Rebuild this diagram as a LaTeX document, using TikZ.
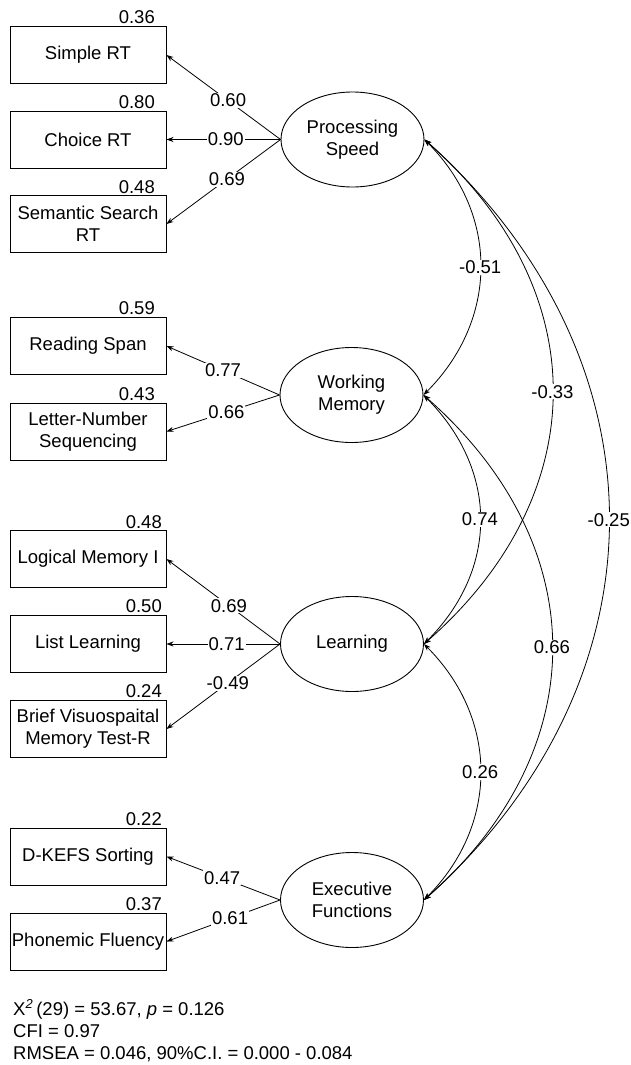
\documentclass[tikz,border=0pt]{standalone}
\usepackage{fontspec}
\setmainfont{Liberation Sans}
\usetikzlibrary{arrows.meta,shapes.geometric}
\tikzset{
  every node/.style={font=\fontsize{18.5}{22}\selectfont, text=black},
  obsbox/.style={draw, line width=0.9pt, minimum width=156pt, minimum height=57pt, inner sep=0pt, align=center},
  latent/.style={draw, ellipse, line width=0.9pt, minimum width=143pt, minimum height=95pt, inner sep=0pt, align=center},
  load/.style={line width=0.8pt, -{Stealth[length=7pt,width=5pt]}},
  cov/.style={line width=0.8pt, {Stealth[length=7pt,width=5pt]}-{Stealth[length=7pt,width=5pt]}},
  lab/.style={fill=white, inner sep=1pt},
  resid/.style={anchor=base east, inner sep=0pt},
  fitline/.style={anchor=base west, inner sep=0pt}
}
\begin{document}
\begin{tikzpicture}[x=1pt,y=-1pt]
\useasboundingbox (0,0) rectangle (631,1065);
% observed boxes
\node[obsbox] (srt) at (88,55) {Simple RT};
\node[obsbox] (crt) at (88,139.5) {Choice RT};
\node[obsbox] (ssrt) at (88,224) {Semantic Search\\RT};
\node[obsbox] (rs) at (88,346) {Reading Span};
\node[obsbox] (lns) at (88,431.5) {Letter-Number\\Sequencing};
\node[obsbox] (lm) at (88,559) {Logical Memory I};
\node[obsbox] (ll) at (88,644) {List Learning};
\node[obsbox] (bv) at (88,729) {Brief Visuospaital\\Memory Test-R};
\node[obsbox] (dk) at (88,856.5) {D-KEFS Sorting};
\node[obsbox] (pf) at (88,941.5) {Phonemic Fluency};
% residual values
\node[resid] (r1) at (155,24) {0.36};
\node[resid] (r2) at (155,108) {0.80};
\node[resid] (r3) at (155,193) {0.48};
\node[resid] (r4) at (155,314) {0.59};
\node[resid] (r5) at (155,400) {0.43};
\node[resid] (r6) at (162,528) {0.48};
\node[resid] (r7) at (162,612) {0.50};
\node[resid] (r8) at (162,697) {0.24};
\node[resid] (r9) at (162,825) {0.22};
\node[resid] (r10) at (162,910) {0.37};
% latent variables
\node[latent] (ps) at (352.5,139.5) {Processing\\Speed};
\node[latent] (wm) at (351.5,395) {Working\\Memory};
\node[latent] (le) at (352,644) {Learning};
\node[latent] (ef) at (352,900) {Executive\\Functions};
% loadings
\draw[load] (ps.west) -- node[lab,pos=0.46]{0.60} (srt.east);
\draw[load] (ps.west) -- node[lab,pos=0.48]{0.90} (crt.east);
\draw[load] (ps.west) -- node[lab,pos=0.47]{0.69} (ssrt.east);
\draw[load] (wm.west) -- node[lab,pos=0.5]{0.77} (rs.east);
\draw[load] (wm.west) -- node[lab,pos=0.47]{0.66} (lns.east);
\draw[load] (le.west) -- node[lab,pos=0.45]{0.69} (lm.east);
\draw[load] (le.west) -- node[lab,pos=0.47]{0.71} (ll.east);
\draw[load] (le.west) -- node[lab,pos=0.46]{-0.49} (bv.east);
\draw[load] (ef.west) -- node[lab,pos=0.51]{0.47} (dk.east);
\draw[load] (ef.west) -- node[lab,pos=0.44]{0.61} (pf.east);
% covariances
\draw[cov] (ps.east) .. controls +(75,75) and +(75,-75) .. node[lab,pos=0.5]{-0.51} (wm.east);
\draw[cov] (ps.east) .. controls +(171,150) and +(171,-150) .. node[lab,pos=0.5]{-0.33} (le.east);
\draw[cov] (ps.east) .. controls +(246,220) and +(246,-220) .. node[lab,pos=0.5]{-0.25} (ef.east);
\draw[cov] (wm.east) .. controls +(75,75) and +(75,-75) .. node[lab,pos=0.5]{0.74} (le.east);
\draw[cov] (wm.east) .. controls +(171,150) and +(171,-150) .. node[lab,pos=0.5]{0.66} (ef.east);
\draw[cov] (le.east) .. controls +(75,75) and +(75,-75) .. node[lab,pos=0.5]{0.26} (ef.east);
% fit statistics
\node[fitline] (fit1) at (13,1015) {X\textsuperscript{\itshape 2}\,(29) = 53.67, \textit{p} = 0.126};
\node[fitline] (fit2) at (13,1037) {CFI = 0.97};
\node[fitline] (fit3) at (13,1059) {RMSEA = 0.046, 90\%C.I. = 0.000 - 0.084};
\end{tikzpicture}
\end{document}
